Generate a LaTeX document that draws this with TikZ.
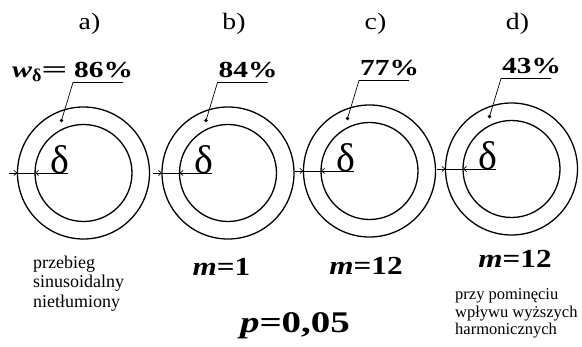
\documentclass[tikz,border=0pt]{standalone}
\usepackage{fontspec}
\setmainfont{Liberation Serif}
\usetikzlibrary{arrows.meta,calc}
\begin{document}
\begin{tikzpicture}[x=1pt,y=-1pt,
  ring/.style={circle,draw,line width=1.3pt,inner sep=0pt,outer sep=0pt},
  outerring/.style={ring,minimum size=132pt},
  innerring/.style={ring,minimum size=97pt},
  dimln/.style={line width=0.7pt},
  tipln/.style={dimln,-{Straight Barb[length=3pt,width=5pt]}},
  leader/.style={line width=0.7pt},
  ringdot/.style={circle,fill,inner sep=0pt,minimum size=3.8pt},
  lbl/.style={font=\fontsize{23.5}{26}\selectfont,inner sep=0pt},
  pct/.style={font=\fontsize{23}{25}\selectfont\bfseries,inner sep=0pt,anchor=base west},
  deltatxt/.style={font=\fontsize{40}{42}\selectfont,inner sep=0pt,anchor=base},
  mtxt/.style={font=\fontsize{26}{28}\selectfont\bfseries,inner sep=0pt,anchor=base},
  note/.style={align=left,inner sep=0pt,anchor=north west}
]
\useasboundingbox (0,0) rectangle (582,347);

\foreach \n/\cx/\cy/\lab/\pc in {a/83.5/173/a)/86, b/228/173/b)/84, c/369.5/171/c)/77, d/511.5/169/d)/43}{
  \node[outerring] (o\n) at (\cx,\cy) {};
  \node[innerring] (i\n) at (\cx,\cy) {};
  \coordinate (s\n) at (\cx-75,\cy);
  \coordinate (e\n) at (\cx-16,\cy);
  \draw[tipln] (s\n) -- (o\n.west);
  \draw[dimln] (o\n.west) -- (i\n.west);
  \draw[tipln] (e\n) -- (i\n.west);
  \node[deltatxt] (dl\n) at (\cx-24,\cy+1) {δ};
  \node[ringdot] (dt\n) at (\cx-22,\cy-52.5) {};
  \coordinate (ul\n) at (\cx-10.5,\cy-90.5);
  \coordinate (ur\n) at (\cx+39.5,\cy-90.5);
  \draw[leader] (dt\n.center) -- (ul\n) -- (ur\n);
  \node[pct] (p\n) at (\cx-9.5,\cy-95.5) {\scalebox{1.28}[1]{\pc\%}};
  \node[lbl] (l\n) at (\cx+6,24) {\scalebox{1.18}[1]{\lab}};
}

\node[anchor=base west,inner sep=0pt,font=\fontsize{23}{25}\selectfont\bfseries] (w) at (12,78)
  {\scalebox{1.3}[1]{\itshape w}\raisebox{-4pt}{\fontsize{18}{20}\selectfont δ}\scalebox{2.0}[1]{=}};

\node[note,font=\fontsize{18}{19.5}\selectfont] (desca) at (33,255.7)
  {przebieg\\sinusoidalny\\nietłumiony};

\node[mtxt] (mb) at (221.5,276) {\scalebox{1.2}[1]{\itshape m\upshape =1}};
\node[mtxt] (mc) at (366,275) {\scalebox{1.2}[1]{\itshape m\upshape =12}};
\node[mtxt] (md) at (515,268) {\scalebox{1.2}[1]{\itshape m\upshape =12}};

\node[note,font=\fontsize{16.5}{17.5}\selectfont] (descd) at (455,288.7)
  {przy pominęciu\\wpływu wyższych\\harmonicznych};

\node[anchor=base,inner sep=0pt,font=\fontsize{30}{32}\selectfont\bfseries] (pv) at (295,333)
  {\scalebox{1.3}[1]{\itshape p\upshape =0,05}};
\end{tikzpicture}
\end{document}
